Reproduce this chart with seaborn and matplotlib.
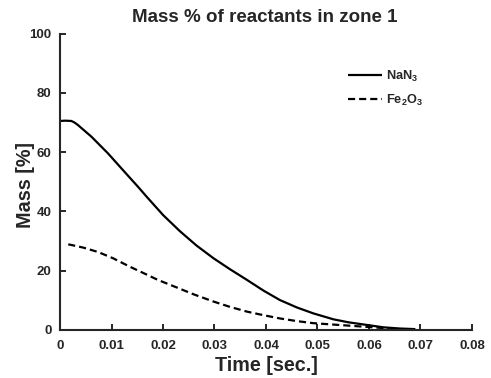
import matplotlib
matplotlib.use("Agg")
import matplotlib.pyplot as plt
import seaborn as sns
import pandas as pd

# Data
time_nan3 = [0.0, 0.001, 0.0022, 0.0028, 0.0035, 0.0061, 0.0093, 0.0125, 0.0152, 0.0168,
             0.0200, 0.0233, 0.0265, 0.0298, 0.0330, 0.0363, 0.0395, 0.0427,
             0.0460, 0.0492, 0.0531, 0.0560, 0.0596, 0.0628, 0.0660, 0.0690]
mass_nan3 = [70.5, 70.6, 70.5, 70.0, 69.1, 65.2, 59.6, 53.4, 48.2, 45.0,
             38.8, 33.3, 28.5, 24.2, 20.5, 16.9, 13.3, 10.1,
             7.6, 5.6, 3.6, 2.6, 1.7, 0.9, 0.5, 0.3]
time_fe2o3 = [0.0016, 0.0045, 0.0074, 0.0103, 0.0135, 0.0167, 0.0190, 0.0223,
              0.0260, 0.0298, 0.0330, 0.0363, 0.0395, 0.0427, 0.0460, 0.0492,
              0.0550, 0.0600, 0.0640]
mass_fe2o3 = [28.9, 27.8, 26.3, 24.2, 21.4, 18.8, 16.9, 14.6,
              12.0, 9.6, 7.8, 6.2, 5.0, 3.9, 3.0, 2.3,
              1.6, 1.0, 0.5]
labels = ["NaN$_3$", "Fe$_2$O$_3$"]
x_ticks = [0, 0.01, 0.02, 0.03, 0.04, 0.05, 0.06, 0.07, 0.08]
x_tick_labels = ["0", "0.01", "0.02", "0.03", "0.04", "0.05", "0.06", "0.07", "0.08"]
y_ticks = [0, 20, 40, 60, 80, 100]

df = pd.concat([
    pd.DataFrame({"Time": time_nan3, "Mass": mass_nan3, "Species": labels[0]}),
    pd.DataFrame({"Time": time_fe2o3, "Mass": mass_fe2o3, "Species": labels[1]}),
])

sns.set_style("ticks")
plt.rcParams["font.family"] = ["Liberation Sans", "DejaVu Sans"]
plt.rcParams["font.weight"] = "bold"
plt.rcParams["mathtext.fontset"] = "custom"
plt.rcParams["mathtext.rm"] = "Liberation Sans:bold"
plt.rcParams["mathtext.it"] = "Liberation Sans:bold"
plt.rcParams["mathtext.bf"] = "Liberation Sans:bold"
plt.rcParams["mathtext.default"] = "rm"

fig = plt.figure(figsize=(4.91, 3.78), dpi=100)
ax = fig.add_axes([60 / 491, 1 - 330 / 378, 412 / 491, 296.5 / 378])

sns.lineplot(data=df, x="Time", y="Mass", hue="Species", style="Species",
             palette=["black", "black"], dashes=[(1, 0), (3.2, 1.8)],
             linewidth=1.6, ax=ax, sort=False, estimator=None)

ax.set_xlim(0, 0.08)
ax.set_ylim(0, 100)
ax.set_xticks(x_ticks)
ax.set_xticklabels(x_tick_labels)
ax.set_yticks(y_ticks)
ax.tick_params(direction="in", length=4, width=1.4, labelsize=9.5)
ax.tick_params(axis="x", pad=7)
ax.tick_params(axis="y", pad=6)
for lab in ax.get_xticklabels() + ax.get_yticklabels():
    lab.set_fontweight("bold")
for s in ["top", "right"]:
    ax.spines[s].set_visible(False)
for s in ["left", "bottom"]:
    ax.spines[s].set_linewidth(1.5)

ax.set_xlabel("Time [sec.]", fontsize=14.2, fontweight="bold", labelpad=3)
ax.set_ylabel("Mass [%]", fontsize=14.2, fontweight="bold")
ax.yaxis.set_label_coords(-0.061, 0.49)
fig.text(265 / 491, 1 - 17 / 378, "Mass % of reactants in zone 1",
         ha="center", va="center", fontsize=13.5, fontweight="bold")

leg = ax.legend(loc="upper left", bbox_to_anchor=(0.67, 0.92), frameon=False,
                fontsize=9.2, handlelength=2.7, handletextpad=0.3, labelspacing=0.7)
for t in leg.get_texts():
    t.set_fontweight("bold")

fig.savefig("out.png", dpi=100)
